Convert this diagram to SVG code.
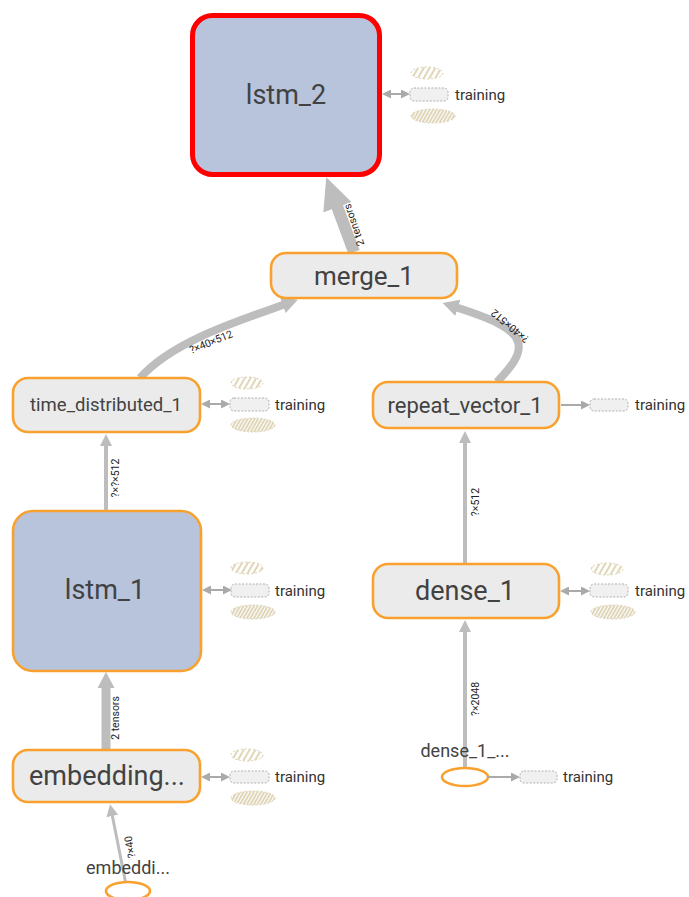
<svg xmlns="http://www.w3.org/2000/svg" width="689" height="897" viewBox="0 0 689 897">
<defs>
<style>
text{font-family:Roboto,"Liberation Sans",sans-serif;fill:#424242}
.node{fill:#ebebeb;stroke:#f9a12e;stroke-width:2.6}
.meta{fill:#b8c4dc;stroke:#f9a12e;stroke-width:2.6}
.sel{fill:#b8c4dc;stroke:#ff0000;stroke-width:5}
.inp{fill:#ffffff;stroke:#f9a12e;stroke-width:2.6}
.lbl{text-anchor:middle}
.edge{fill:none;stroke:#bdbdbd}
.elbl{font-size:10.5px;fill:#222;text-anchor:middle}
.aux{fill:none;stroke:#aaaaaa;stroke-width:2}
.auxbox{fill:#f0f0f0;stroke:#b0b0b0;stroke-width:1;stroke-dasharray:2 1.5}
.tr{font-size:15px;fill:#333}
.h1{fill:url(#hatchA);stroke:#dcd2b4;stroke-width:1;stroke-dasharray:2 2}
.h2{fill:url(#hatchB);stroke:#dcd2b4;stroke-width:1;stroke-dasharray:2 2}
</style>
<pattern id="hatchA" width="5" height="5" patternUnits="userSpaceOnUse" patternTransform="rotate(30)">
<line x1="1" y1="0" x2="1" y2="5" stroke="#d8cca6" stroke-width="1.6"/>
</pattern>
<pattern id="hatchB" width="3" height="3" patternUnits="userSpaceOnUse" patternTransform="rotate(30)">
<line x1="1" y1="0" x2="1" y2="3" stroke="#d2c59c" stroke-width="1.4"/>
</pattern>
<marker id="mBig" markerUnits="userSpaceOnUse" markerWidth="32" markerHeight="30" viewBox="0 0 32 30" refX="4" refY="15" orient="auto">
<path d="M0,0 L32,15 L0,30 Z" fill="#bdbdbd"/>
</marker>
<marker id="mMed" markerUnits="userSpaceOnUse" markerWidth="16" markerHeight="17" viewBox="0 0 16 17" refX="3" refY="8.5" orient="auto">
<path d="M0,0 L16,8.5 L0,17 Z" fill="#bdbdbd"/>
</marker>
<marker id="mSm" markerUnits="userSpaceOnUse" markerWidth="12" markerHeight="12" viewBox="0 0 12 12" refX="2" refY="6" orient="auto">
<path d="M0,0 L12,6 L0,12 Z" fill="#bdbdbd"/>
</marker>
<marker id="mAux" markerUnits="userSpaceOnUse" markerWidth="9" markerHeight="9" viewBox="0 0 9 9" refX="1" refY="4.5" orient="auto-start-reverse">
<path d="M0,0 L9,4.5 L0,9 Z" fill="#aaaaaa"/>
</marker>
</defs>
<rect width="689" height="897" fill="#ffffff"/>

<g id="edges">
<path class="edge" stroke-width="12" d="M354 252 L336 203.5" marker-end="url(#mBig)"/>
<path class="edge" stroke-width="8" d="M140 378 C172 342 235 322 285.6 304" marker-end="url(#mMed)"/>
<path class="edge" stroke-width="8" d="M497 382 C510 368 522 355 518 342 C514 328 490 318 455 307" marker-end="url(#mMed)"/>
<path class="edge" stroke-width="4" d="M106 511 L106 444" marker-end="url(#mSm)"/>
<path class="edge" stroke-width="9" d="M106 750 L106 685" marker-end="url(#mMed)"/>
<path class="edge" stroke-width="3" d="M125.5 882 L112 814" marker-end="url(#mSm)"/>
<path class="edge" stroke-width="4" d="M465 563 L465 441" marker-end="url(#mSm)"/>
<path class="edge" stroke-width="4" d="M465 768 L465 630" marker-end="url(#mSm)"/>
<text class="elbl" transform="translate(354,225) rotate(-109)" y="3.5">2 tensors</text>
<text class="elbl" transform="translate(211,342) rotate(-22)" y="3.5">?×40×512</text>
<text class="elbl" transform="translate(510,326) rotate(-140)" y="3.5">?×40×512</text>
<text class="elbl" transform="translate(115,478) rotate(-90)" y="3.5">?×?×512</text>
<text class="elbl" transform="translate(115,718) rotate(-90)" y="3.5">2 tensors</text>
<text class="elbl" transform="translate(130,847) rotate(-101)" y="3.5">?×40</text>
<text class="elbl" transform="translate(475,502) rotate(-90)" y="3.5">?×512</text>
<text class="elbl" transform="translate(475,699) rotate(-90)" y="3.5">?×2048</text>
</g>

<g id="lstm_2">
<rect class="sel" x="192.5" y="15.5" width="187" height="159" rx="20"/>
<text class="lbl" x="286" y="104" font-size="27">lstm_2</text>
<path class="aux" d="M390 94 L402 94" marker-start="url(#mAux)" marker-end="url(#mAux)"/>
<rect class="auxbox" x="410" y="88" width="38" height="13" rx="4"/>
<text class="tr" x="455" y="100">training</text>
<ellipse class="h1" cx="427" cy="73" rx="16" ry="6"/>
<ellipse class="h2" cx="433" cy="116" rx="22" ry="7"/>
</g>

<g id="merge_1">
<rect class="node" x="271" y="253" width="186" height="45" rx="15"/>
<text class="lbl" x="364" y="285" font-size="26">merge_1</text>
</g>

<g id="time_distributed_1">
<rect class="node" x="13" y="378" width="187" height="54" rx="15"/>
<text class="lbl" x="106" y="411" font-size="18.5">time_distributed_1</text>
<path class="aux" d="M209 404 L222 404" marker-start="url(#mAux)" marker-end="url(#mAux)"/>
<rect class="auxbox" x="230" y="398" width="39" height="13" rx="4"/>
<text class="tr" x="275" y="410">training</text>
<ellipse class="h1" cx="247" cy="383" rx="16" ry="6"/>
<ellipse class="h2" cx="253" cy="425" rx="22" ry="7"/>
</g>

<g id="repeat_vector_1">
<rect class="node" x="373" y="382" width="186" height="46" rx="15"/>
<text class="lbl" x="465" y="413" font-size="22">repeat_vector_1</text>
<path class="aux" d="M561 405 L582 405" marker-end="url(#mAux)"/>
<rect class="auxbox" x="590" y="399" width="38" height="12" rx="4"/>
<text class="tr" x="635" y="410">training</text>
</g>

<g id="lstm_1">
<rect class="meta" x="13" y="511" width="188" height="160" rx="20"/>
<text class="lbl" x="105" y="599" font-size="27">lstm_1</text>
<path class="aux" d="M210 590 L224 590" marker-start="url(#mAux)" marker-end="url(#mAux)"/>
<rect class="auxbox" x="231" y="584" width="38" height="13" rx="4"/>
<text class="tr" x="275" y="596">training</text>
<ellipse class="h1" cx="247" cy="568" rx="16" ry="6"/>
<ellipse class="h2" cx="253" cy="612" rx="22" ry="7"/>
</g>

<g id="dense_1">
<rect class="node" x="373" y="564" width="186" height="54" rx="15"/>
<text class="lbl" x="465" y="600" font-size="27">dense_1</text>
<path class="aux" d="M568 591 L582 591" marker-start="url(#mAux)" marker-end="url(#mAux)"/>
<rect class="auxbox" x="590" y="584" width="38" height="13" rx="4"/>
<text class="tr" x="635" y="596">training</text>
<ellipse class="h1" cx="607" cy="569" rx="16" ry="6"/>
<ellipse class="h2" cx="613" cy="612" rx="22" ry="7"/>
</g>

<g id="embedding">
<rect class="node" x="13" y="750" width="187" height="52" rx="15"/>
<text class="lbl" x="107" y="785" font-size="27">embedding...</text>
<path class="aux" d="M209 777 L222 777" marker-start="url(#mAux)" marker-end="url(#mAux)"/>
<rect class="auxbox" x="230" y="771" width="39" height="12" rx="4"/>
<text class="tr" x="275" y="782">training</text>
<ellipse class="h1" cx="247" cy="755" rx="16" ry="6"/>
<ellipse class="h2" cx="253" cy="798" rx="22" ry="7"/>
</g>

<g id="embedding_input">
<text class="lbl" x="128" y="874" font-size="18">embeddi...</text>
<ellipse class="inp" cx="128" cy="891" rx="22" ry="9"/>
</g>

<g id="dense_1_input">
<text class="lbl" x="465" y="757" font-size="18">dense_1_...</text>
<ellipse class="inp" cx="465" cy="777" rx="23" ry="9"/>
<path class="aux" d="M488 777 L512 777" marker-end="url(#mAux)"/>
<rect class="auxbox" x="520" y="771" width="37" height="12" rx="4"/>
<text class="tr" x="563" y="782">training</text>
</g>
</svg>
